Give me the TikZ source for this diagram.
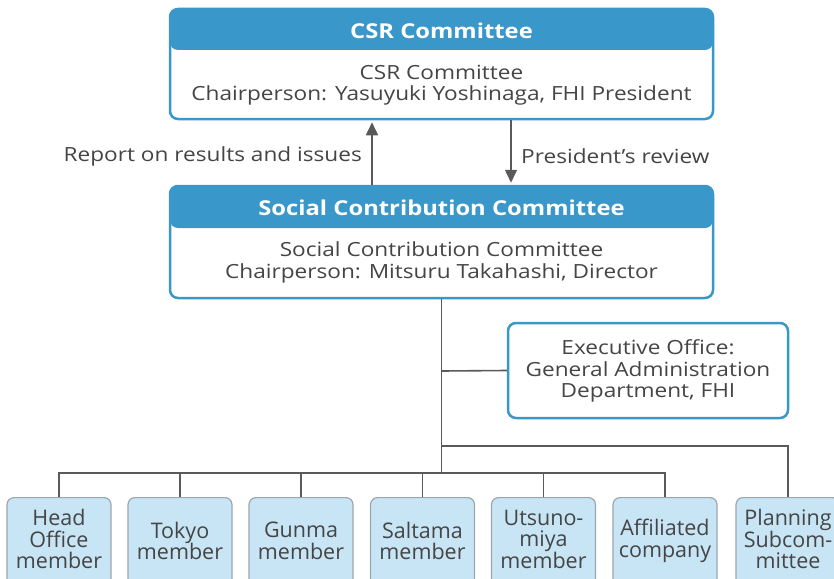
\documentclass[tikz,border=0pt]{standalone}
\usepackage{fontspec}
\setmainfont{Open Sans}
\newfontfamily\widesans[FakeStretch=1.16]{Open Sans}
\usetikzlibrary{arrows.meta}
\definecolor{hdrblue}{HTML}{3A97C9}
\definecolor{memfill}{HTML}{C8E5F6}
\definecolor{memedge}{HTML}{9CA6AE}
\definecolor{txtgray}{HTML}{454545}
\definecolor{linegray}{HTML}{5A5A5A}
\begin{document}
\begin{tikzpicture}[x=1pt,y=-1pt,
  panel/.style={draw=hdrblue, line width=2.5pt, rounded corners=8pt, fill=white,
    inner sep=0pt, minimum width=543pt},
  headed/.style={path picture={\fill[hdrblue]
      (path picture bounding box.north west) rectangle
      ([yshift=-#1]path picture bounding box.north east);}},
  headtext/.style={text=white, font=\widesans\fontsize{20.5}{22}\selectfont\bfseries},
  bodytext/.style={text=txtgray, align=center, inner sep=0pt,
    font=\widesans\fontsize{19.5}{21.5}\selectfont},
  member/.style={draw=memedge, fill=memfill, line width=1.2pt, rounded corners=7pt,
    minimum width=104pt, minimum height=110pt, anchor=north, inner sep=0pt},
  memtext/.style={text=txtgray, align=center, inner sep=0pt,
    font=\fontsize{21.5}{21.5}\selectfont},
  conn/.style={draw=linegray, line width=1.6pt},
  arr/.style={conn, -{Triangle[length=13pt,width=12pt]}},
  lbl/.style={text=txtgray, inner sep=0pt, font=\widesans\fontsize{19.5}{21}\selectfont}]

\clip (0,0) rectangle (834,578);
\fill[white] (0,0) rectangle (834,578);

% CSR committee
\node[panel, headed=41pt, minimum height=110pt] (csr) at (441.5,64) {};
\node[headtext] (csrhead) at (441.5,31) {CSR Committee};
\node[bodytext] (csrbody) at (441.5,85) {CSR Committee\\Chairperson: Yasuyuki Yoshinaga, FHI President};

% Social contribution committee
\node[panel, headed=42pt, minimum height=112pt] (scc) at (441.5,242) {};
\node[headtext] (scchead) at (441.5,208) {Social Contribution Committee};
\node[bodytext] (sccbody) at (441.5,262.5) {Social Contribution Committee\\Chairperson: Mitsuru Takahashi, Director};

% reporting arrows
\coordinate (upx) at (372,0);
\coordinate (dnx) at (511,0);
\draw[arr] (scc.north -| upx) -- ([yshift=-2pt]csr.south -| upx);
\draw[arr] (csr.south -| dnx) -- ([yshift=2pt]scc.north -| dnx);
\node[lbl, anchor=east] (rep) at (362,156) {Report on results and issues};
\node[lbl, anchor=west] (rev) at (521,156) {President’s review};

% executive office
\node[panel, minimum width=280pt, minimum height=95pt] (exec) at (648,370.5) {};
\node[bodytext] (exectext) at (648,371) {Executive Office:\\General Administration\\Department, FHI};

% members
\node[member] (m1) at (59,497) {};
\node[member] (m2) at (180,497) {};
\node[member] (m3) at (301,497) {};
\node[member] (m4) at (422.5,497) {};
\node[member] (m5) at (543.5,497) {};
\node[member] (m6) at (665,497) {};
\node[member] (m7) at (788,497) {};
\node[memtext] (t1) at (59,539) {Head\\Office\\member};
\node[memtext] (t2) at (180,541) {Tokyo\\member};
\node[memtext] (t3) at (301,541) {Gunma\\member};
\node[memtext] (t4) at (422.5,541) {Saltama\\member};
\node[memtext] (t5) at (543.5,539) {Utsuno-\\miya\\member};
\node[memtext] (t6) at (665,541) {Affiliated\\company};
\node[memtext] (t7) at (788,539) {Planning\\Subcom-\\mittee};

% connectors
\coordinate (j1) at (441.5,371);
\coordinate (j2) at (441.5,446);
\coordinate (j3) at (441.5,473);
\draw[conn] (scc.south) -- (j3);
\draw[conn] (j1) -- (exec.west);
\draw[conn] (j2) -| (m7.north);
\draw[conn] (m1.north) -- (m1.north |- j3) -- (m6.north |- j3) -- (m6.north);
\foreach \m in {m2,m3,m4,m5} \draw[conn] (\m.north) -- (\m.north |- j3);
\end{tikzpicture}
\end{document}
